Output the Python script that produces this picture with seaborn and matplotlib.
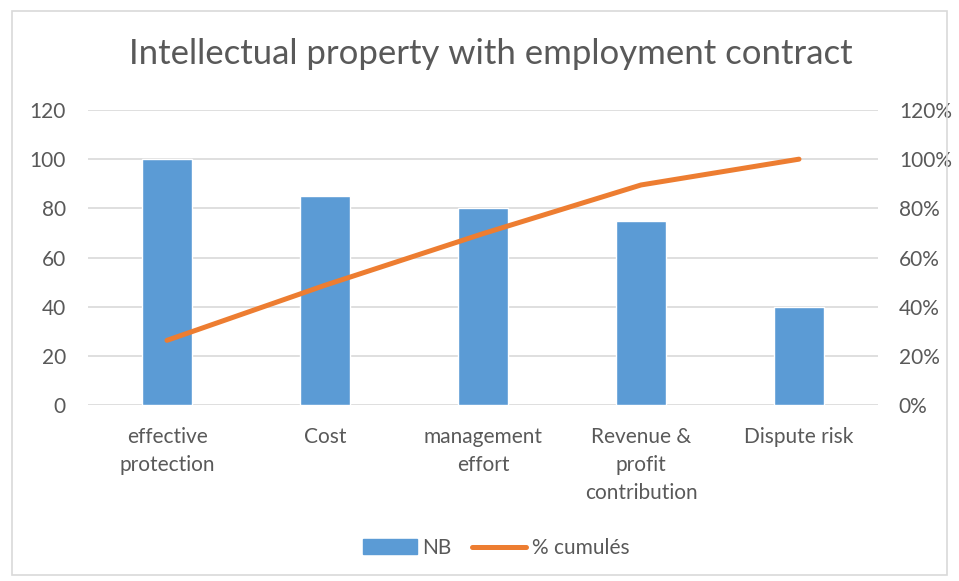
import numpy as np
import pandas as pd
import matplotlib
matplotlib.use("Agg")
import matplotlib.pyplot as plt
import seaborn as sns
from matplotlib.patches import Patch, Rectangle
from matplotlib.lines import Line2D
from matplotlib.ticker import PercentFormatter

categories = ["effective\nprotection", "Cost", "management\neffort",
              "Revenue &\nprofit\ncontribution", "Dispute risk"]
nb = [100, 85, 80, 75, 40]
cum_pct = [26.3, 48.7, 69.7, 89.5, 100.0]
left_ticks = [0, 20, 40, 60, 80, 100, 120]
right_ticks = [0, 20, 40, 60, 80, 100, 120]

sns.set_theme(style="white")
plt.rcParams['font.family'] = ['Lato', 'DejaVu Sans']

BAR = "#5b9bd5"
LINE = "#ed7d31"
TXT = "#595959"
GRID = "#d9d9d9"
FS = 15

fig = plt.figure(figsize=(9.59, 5.81), dpi=100)
fig.patches.append(Rectangle((12/959, 1-575/581), (947-12)/959, (575-11)/581,
                             transform=fig.transFigure, fill=False,
                             edgecolor=GRID, linewidth=1.2))
ax = fig.add_axes([88/959, 1-405/581, (878-88)/959, (405-110)/581])

df = pd.DataFrame({"cat": categories, "nb": nb})
sns.barplot(data=df, x="cat", y="nb", color=BAR, width=0.32, ax=ax,
            saturation=1, zorder=3)
ax.set_ylim(0, 120)
ax.set_yticks(left_ticks)
ax.set_xlim(-0.5, 4.5)
ax.grid(axis="y", color=GRID, linewidth=1.2, zorder=0)
ax.set_axisbelow(True)
ax.set_xlabel("")
ax.set_ylabel("")
for s in ax.spines.values():
    s.set_visible(False)
ax.tick_params(axis="both", length=0, labelsize=FS, colors=TXT, pad=16)
ax.tick_params(axis="x", pad=16)
for lbl in ax.get_xticklabels():
    lbl.set_linespacing(1.5)
    lbl.set_verticalalignment("top")

ax2 = ax.twinx()
sns.lineplot(x=np.arange(len(cum_pct)), y=cum_pct, color=LINE, linewidth=3.6,
             ax=ax2, solid_capstyle="round")
ax2.set_ylim(0, 120)
ax2.set_yticks(right_ticks)
ax2.yaxis.set_major_formatter(PercentFormatter(decimals=0))
ax2.set_xlim(-0.5, 4.5)
for s in ax2.spines.values():
    s.set_visible(False)
ax2.tick_params(axis="y", length=0, labelsize=FS, colors=TXT, pad=15)
ax2.grid(False)
ax2.set_ylabel("")

fig.text(491/959, 1-54/581, "Intellectual property with employment contract",
         ha="center", va="center", fontsize=25, color=TXT)

handles = [Patch(facecolor=BAR, edgecolor=BAR),
           Line2D([0], [0], color=LINE, linewidth=3.6, solid_capstyle="round")]
fig.legend(handles, ["NB", "% cumulés"], loc="center",
           bbox_to_anchor=(496/959, 1-548/581), ncol=2, frameon=False,
           fontsize=FS, labelcolor=TXT, handlelength=2.6, handletextpad=0.25,
           columnspacing=1.0)

fig.savefig("out.png", dpi=100)
